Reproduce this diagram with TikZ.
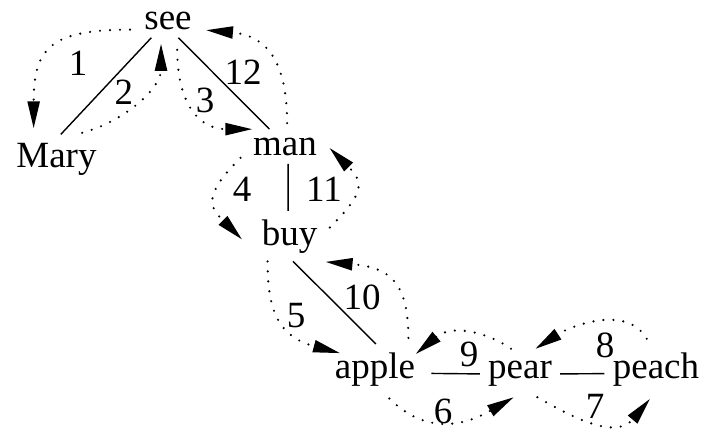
\documentclass[tikz,border=0pt]{standalone}
\usepackage{fontspec}
\setmainfont{Liberation Serif}
\usetikzlibrary{arrows.meta}

\begin{document}
\begin{tikzpicture}[x=0.5pt,y=0.5pt,font=\fontsize{18.5}{20}\selectfont,
  word/.style={anchor=base,inner sep=4pt},
  num/.style={inner sep=0pt},
  edge/.style={line width=0.7pt},
  walk/.style={line width=1.2pt,line cap=round,dash pattern=on 0pt off 5pt,
    -{Triangle[length=13.5pt,width=6pt]},shorten >=3pt,shorten <=3pt}]
\useasboundingbox (0,0) rectangle (708,430);
% words
\node[word] (see) at (168,401) {see};
\node[word] (mary) at (56.5,263) {Mary};
\node[word] (man) at (285,275) {man};
\node[word] (buy) at (289.5,185) {buy};
\node[word] (apple) at (375,52) {apple};
\node[word] (pear) at (520,52) {pear};
\node[word] (peach) at (656,52) {peach};
% tree edges
\draw[edge] (see.226) -- (mary.80);
\draw[edge] (see.-59) -- (man.132);
\draw[edge] (man.-80) -- (buy.93);
\draw[edge] (buy.-82) -- (apple.88);
\draw[edge,shorten <=4pt] (apple.-5) -- (pear.181);
\draw[edge] (pear.-1) -- (peach.185);
% walk round the tree
\draw[walk] (see.196) to[out=180,in=90,looseness=1.5] (mary.133);
\draw[walk] (mary.51) to[out=15,in=270] (see.248);
\draw[walk,shorten <=6pt] (see.-62) to[out=-90,in=180,looseness=1.3] (man.147);
\draw[walk,shorten >=8pt] (man.190) to[out=225,in=135,looseness=1.6] (buy.202);
\draw[walk,shorten <=0pt,shorten >=-7pt] (buy.229) to[out=-90,in=165,looseness=1.2] (apple.158);
\draw[walk] (apple.-68) to[out=-45,in=210,looseness=1.15] (pear.267);
\draw[walk] (pear.-60) to[out=-30,in=230,looseness=1.2] (peach.265);
\draw[walk] (peach.104) to[out=120,in=33] (pear.64);
\draw[walk,shorten >=-5pt] (pear.101) to[out=145,in=40] (apple.24);
\draw[walk] (apple.37) to[out=90,in=-5,looseness=1.4] (buy.-40);
\draw[walk] (buy.7) to[out=45,in=-45,looseness=1.6] (man.4);
\draw[walk] (man.83) to[out=90,in=-5,looseness=1.3] (see.-16);
% step numbers
\node[num] (n1) at (78,367) {1};
\node[num] (n2) at (124,338) {2};
\node[num] (n3) at (205,330) {3};
\node[num] (n4) at (242,241) {4};
\node[num] (n5) at (296,114) {5};
\node[num] (n6) at (443,19) {6};
\node[num] (n7) at (595,24) {7};
\node[num] (n8) at (605,85) {8};
\node[num] (n9) at (469,76) {9};
\node[num] (n10) at (362,133) {10};
\node[num] (n11) at (324,241) {11};
\node[num] (n12) at (243,358) {12};
\end{tikzpicture}
\end{document}
